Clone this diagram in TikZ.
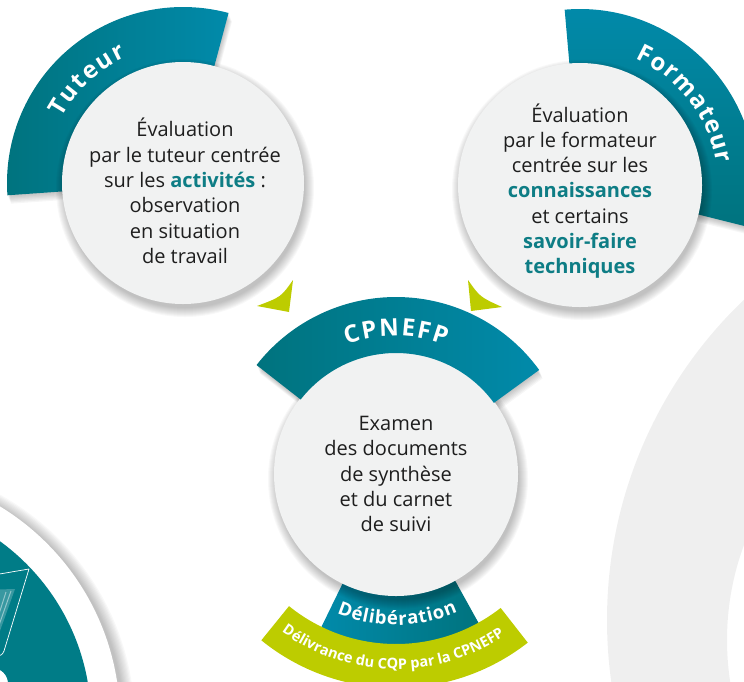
\documentclass[tikz,border=0pt]{standalone}
\usepackage{fontspec}
\setmainfont{Open Sans}
\usetikzlibrary{decorations.text,calc}
\definecolor{tealD}{HTML}{00737E}
\definecolor{tealL}{HTML}{018AAA}
\definecolor{hlcol}{HTML}{0E7D85}
\definecolor{lime}{HTML}{BDCC00}
\definecolor{disc}{HTML}{F1F2F2}
\definecolor{ringgray}{HTML}{EFEFEF}
\definecolor{iconteal}{HTML}{007C87}
\definecolor{txt}{HTML}{1E1E1E}
% annular sector: rin, rout, a1, a2 (relative to current origin)
\newcommand\bandpath[4]{(#3:#2) arc[start angle=#3,end angle=#4,radius=#2] -- (#4:#1) arc[start angle=#4,end angle=#3,radius=#1] -- cycle}
\newcommand\hlt[1]{{\bfseries\color{hlcol}#1}}
\newcommand\titlefont{\bfseries\fontsize{24}{24}\selectfont}
\newcommand\delibfont{\bfseries\fontsize{18.5}{18.5}\selectfont}
\newcommand\greenfont{\bfseries\fontsize{14.5}{14.5}\selectfont}
\newcommand\discshadow[2]{% center, radius
  \foreach \k in {0,...,9}{\pgfmathsetmacro\rr{#2+\k-1}
    \fill[black,opacity=0.028] ($(#1)+(2,-5)$) circle[radius=\rr];}}
\begin{document}
\begin{tikzpicture}[x=1pt,y=1pt,
  bodytext/.style={align=center, text=txt, font=\fontsize{20}{25.3}\selectfont},
  bandshadow/.style={black, opacity=0.035}]
\useasboundingbox (0,0) rectangle (744,-681);
\begin{scope}
\clip (0,0) rectangle (744,-681);
\coordinate (C1) at (183,-183);
\coordinate (C2) at (580,-185);
\coordinate (C3) at (396,-474);
\coordinate (RA) at (1050,-620);
\coordinate (RB) at (1000,-640);
\coordinate (BL) at (-130,-720);
% right decorative ring
\fill[ringgray, even odd rule] (RA) circle[radius=443] (RB) circle[radius=273];
% bottom-left disc
\foreach \k in {0,...,9}{\pgfmathsetmacro\rr{250+\k*1.2}
  \fill[black,opacity=0.028] ($(BL)+(4,-3)$) circle[radius=\rr];}
\fill[white] (BL) circle[radius=250];
\fill[iconteal] (BL) circle[radius=221];
\fill[white, opacity=0.22] (-20,-590) -- (15,-589) -- (-4,-642) -- cycle;
\draw[white, opacity=0.45, line width=1pt] (6,-592) -- (-8,-636) (11,-591) -- (-2,-628);
\draw[white, line width=0.7pt, line join=round] (-30,-579) -- (29,-569) -- (4,-651) .. controls (2,-655) .. (-3,-656) -- (-30,-656);
\fill[white] (-8,-684) circle[radius=16];
% ---- Tuteur ----
\begin{scope}[shift={(C1)}]
  \foreach \k in {1,...,7}{\fill[bandshadow, shift={(\k*0.5,-\k*1.2)}] \bandpath{110}{176}{75}{184};}
  \shade[left color=tealD, right color=tealL] \bandpath{110}{176}{75}{184};
\end{scope}
\discshadow{C1}{121}
\fill[disc] (C1) circle[radius=121];
% ---- Formateur ----
\begin{scope}[shift={(C2)}]
  \foreach \k in {1,...,7}{\fill[bandshadow, shift={(\k*0.5,-\k*1.2)}] \bandpath{110}{176}{-14}{95};}
  \shade[top color=tealL, bottom color=tealD] \bandpath{110}{176}{-14}{95};
\end{scope}
\discshadow{C2}{122}
\fill[disc] (C2) circle[radius=122];
% ---- CPNEFP ----
\begin{scope}[shift={(C3)}]
  \foreach \k in {1,...,6}{\fill[bandshadow, shift={(\k*0.5,-\k*1.2)}] \bandpath{110}{172}{244}{299};}
  \shade[left color=tealL, right color=tealD] \bandpath{110}{172}{244}{299};
  \foreach \k in {1,...,7}{\fill[bandshadow, shift={(\k*0.5,-\k*1.2)}] \bandpath{121}{177}{36}{142};}
\end{scope}
\discshadow{C3}{122}
\fill[disc] (C3) circle[radius=122];
\begin{scope}[shift={(C3)}]
  \shade[left color=tealD, right color=tealL] \bandpath{121}{177}{36}{142};
  \fill[lime] \bandpath{170}{214}{231}{308};
\end{scope}
% ---- lime pointers ----
\fill[lime] (293,-280) .. controls (281,-297) .. (257,-306) -- (289,-312) -- cycle;
\fill[lime] (468,-280) .. controls (480,-297) .. (502,-307) -- (471,-311) -- cycle;
% ---- curved titles ----
\path[decorate, decoration={text along path, text align=center, text color=white,
  text={|\titlefont|{T\kern2pt}{u\kern2pt}{t\kern2pt}{e\kern2pt}{u\kern2pt}{r}}}]
  ($(C1)+(178:138)$) arc[start angle=178, end angle=88, radius=138];
\path[decorate, decoration={text along path, text align=center, text color=white,
  text={|\titlefont|{F\kern1.2pt}{o\kern1.2pt}{r\kern1.2pt}{m\kern1.2pt}{a\kern1.2pt}{t\kern1.2pt}{e\kern1.2pt}{u\kern1.2pt}{r}}}]
  ($(C2)+(83:138)$) arc[start angle=83, end angle=-8, radius=138];
\path[decorate, decoration={text along path, text align=center, text color=white,
  text={|\titlefont|{C\kern1.8pt}{P\kern1.8pt}{N\kern1.8pt}{E\kern1.8pt}{F\kern1.8pt}{P}}}]
  ($(C3)+(135:138)$) arc[start angle=135, end angle=45, radius=138];
\path[decorate, decoration={text along path, text align=center, text color=white,
  text={|\delibfont|{D\kern0.8pt}{é\kern0.8pt}{l\kern0.8pt}{i\kern0.8pt}{b\kern0.8pt}{é\kern0.8pt}{r\kern0.8pt}{a\kern0.8pt}{t\kern0.8pt}{i\kern0.8pt}{o\kern0.8pt}{n}}}]
  ($(C3)+(238:151)$) arc[start angle=238, end angle=303, radius=151];
\path[decorate, decoration={text along path, text align=center, text color=white,
  text={|\greenfont|Délivrance du CQP par la CPNEFP}}]
  ($(C3)+(222:195)$) arc[start angle=222, end angle=316, radius=195];
% ---- body texts ----
\node[bodytext] (t1) at (185,-191) {Évaluation\\par le tuteur centrée\\sur les \hlt{activités} :\\observation\\en situation\\de travail};
\node[bodytext] (t2) at (580,-191) {Évaluation\\par le formateur\\centrée sur les\\\hlt{connaissances}\\et certains\\\hlt{savoir-faire}\\\hlt{techniques}};
\node[bodytext] (t3) at (396,-474) {Examen\\des documents\\de synthèse\\et du carnet\\de suivi};
\end{scope}
\end{tikzpicture}
\end{document}
